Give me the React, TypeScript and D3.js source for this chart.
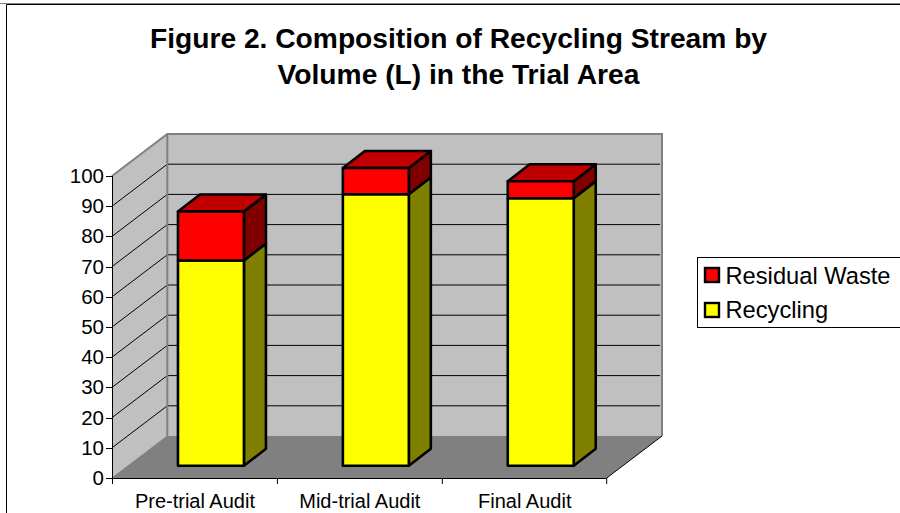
import React from "react";
import * as d3 from "d3";

const categories = ["Pre-trial Audit", "Mid-trial Audit", "Final Audit"];
const recycling = [68, 89.9, 88.6];
const residual = [16.2, 8.7, 5.6];
const yTicks = [0, 10, 20, 30, 40, 50, 60, 70, 80, 90, 100];
const titleLines = ["Figure 2. Composition of Recycling Stream by", "Volume (L) in the Trial Area"];
const legendItems = [
  { label: "Residual Waste", color: "#ff0000" },
  { label: "Recycling", color: "#ffff00" },
];

const FONT = "'Liberation Sans', Arial, sans-serif";
const x0 = 112, x1 = 606.7, yBase = 478, yTop = 176;
const dx = 55.3, dy = -42; // wall depth
const bdx = 22, bdy = -17; // bar depth
const barOffX = 16.5, barOffY = -12.2;

const x = d3.scaleBand<string>().domain(categories).range([x0, x1]).paddingInner(0.6).paddingOuter(0.3);
const xEdge = d3.scaleBand<string>().domain(categories).range([x0, x1]).padding(0);
const y = d3.scaleLinear().domain([0, 100]).range([yBase, yTop]);

const pts = (p: [number, number][]) => p.map((q) => q.join(",")).join(" ");

function Box({ bx, w, yb, yt, front, side, top, showTop }: any) {
  return (
    <g stroke="#000" strokeWidth={2.6} strokeLinejoin="round">
      <polygon points={pts([[bx + w, yb], [bx + w + bdx, yb + bdy], [bx + w + bdx, yt + bdy], [bx + w, yt]])} fill={side} />
      {showTop && <polygon points={pts([[bx, yt], [bx + bdx, yt + bdy], [bx + w + bdx, yt + bdy], [bx + w, yt]])} fill={top} />}
      <rect x={bx} y={yt} width={w} height={yb - yt} fill={front} />
    </g>
  );
}

export default function App() {
  return (
    <svg width={900} height={513} style={{ position: "absolute", left: 0, top: 0, display: "block" }}>
      <rect x={0} y={0} width={900} height={513} fill="#fff" />
      <path d="M0,3.5H900" fill="none" stroke="#808080" strokeWidth={1} />
      <path d="M6.5,513V4.5H900" fill="none" stroke="#000" strokeWidth={1} />
      {titleLines.map((t, i) => (
        <text key={t} x={458.5} y={47.5 + i * 36.5} textAnchor="middle" fontFamily={FONT} fontSize={28.2} fontWeight="bold" fill="#000">{t}</text>
      ))}

      {/* back wall */}
      <rect x={x0 + dx} y={yTop + dy} width={x1 - x0} height={yBase - yTop} fill="#c0c0c0" />
      {/* side wall */}
      <polygon points={pts([[x0, yBase], [x0 + dx, yBase + dy], [x0 + dx, yTop + dy], [x0, yTop]])} fill="#c0c0c0" />
      {/* floor */}
      <polygon points={pts([[x0, yBase], [x0 + dx, yBase + dy], [x1 + dx, yBase + dy], [x1, yBase]])} fill="#808080" />
      {/* gridlines */}
      {yTicks.slice(1, -1).map((t) => (
        <path key={t} d={`M${x0},${y(t)}L${x0 + dx},${y(t) + dy}H${x1 + dx - 2}`} fill="none" stroke="#000" strokeWidth={1} />
      ))}
      {/* wall frame */}
      <path d={`M${x0},${yTop}L${x0 + dx},${yTop + dy}H${x1 + dx}V${yBase + dy}M${x0 + dx},${yTop + dy}V${yBase + dy}`} fill="none" stroke="#808080" strokeWidth={2} />
      <path d={`M${x0},${yBase}L${x0 + dx},${yBase + dy}`} fill="none" stroke="#808080" strokeWidth={1} />
      {/* bars */}
      {categories.map((c, i) => {
        const bx = (x(c) as number) + barOffX;
        const w = x.bandwidth();
        const yb = y(0) + barOffY;
        const yr = y(recycling[i]) + barOffY;
        const yw = y(recycling[i] + residual[i]) + barOffY;
        return (
          <g key={c}>
            <Box bx={bx} w={w} yb={yb} yt={yr} front="#ffff00" side="#808000" />
            <Box bx={bx} w={w} yb={yr} yt={yw} front="#ff0000" side="#800000" top="#c00000" showTop />
          </g>
        );
      })}
      {/* axes */}
      <path d={`M${x1},${yBase}L${x1 + dx},${yBase + dy}`} fill="none" stroke="#000" strokeWidth={1} />
      <path d={`M${x0 + 0.5},${yTop}V${yBase + 0.5}H${x1}`} fill="none" stroke="#000" strokeWidth={1} />
      {yTicks.map((t) => (
        <g key={t}>
          <line x1={x0 - 6} x2={x0} y1={Math.round(y(t)) + 0.5} y2={Math.round(y(t)) + 0.5} stroke="#000" />
          <text x={x0 - 8} y={y(t) + 7} textAnchor="end" fontFamily={FONT} fontSize={20.5} fill="#000">{t}</text>
        </g>
      ))}
      {categories.map((c, i) => {
        const s = xEdge(c) as number;
        return (
          <g key={c}>
            <line x1={s + 0.5} x2={s + 0.5} y1={yBase} y2={yBase + 6} stroke="#000" />
            {i === categories.length - 1 && <line x1={x1} x2={x1} y1={yBase} y2={yBase + 6} stroke="#000" />}
            <text x={s + xEdge.bandwidth() / 2 + 0.5} y={507.5} textAnchor="middle" fontFamily={FONT} fontSize={20} fill="#000">{c}</text>
          </g>
        );
      })}
      {/* legend */}
      <rect x={697.5} y={257.5} width={215} height={70} fill="#fff" stroke="#000" />
      {legendItems.map((l, i) => (
        <g key={l.label}>
          <rect x={705} y={268 + i * 35} width={14} height={14} fill={l.color} stroke="#000" strokeWidth={2.4} />
          <text x={725.5} y={283.5 + i * 34.5} fontFamily={FONT} fontSize={23.7} fill="#000">{l.label}</text>
        </g>
      ))}
    </svg>
  );
}
